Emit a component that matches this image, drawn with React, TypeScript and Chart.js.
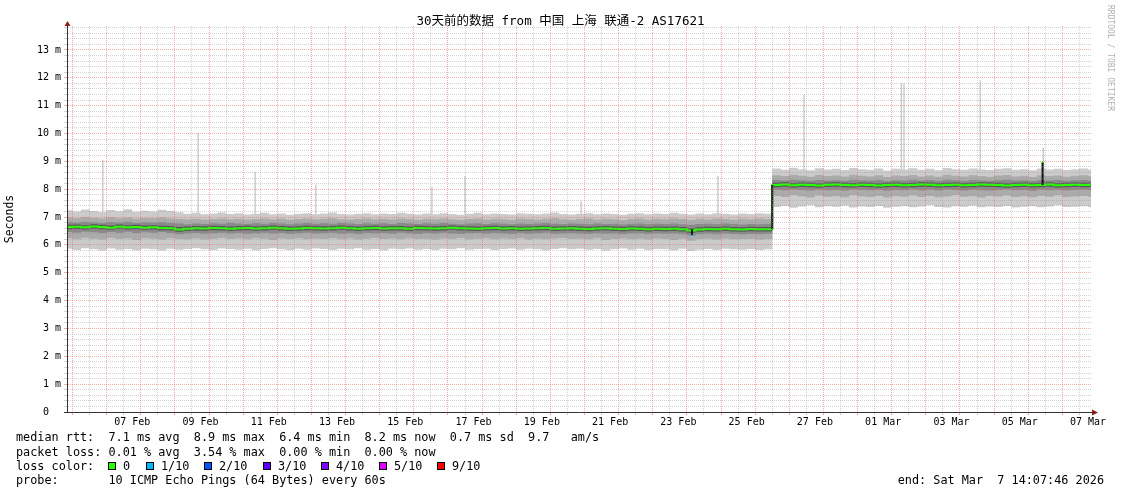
import React, { useEffect, useRef } from 'react';
import { Chart, registerables } from 'chart.js';

Chart.register(...registerables);

// ---------- text ----------
const TITLE = '30天前的数据 from 中国 上海 联通-2 AS17621';
const Y_TITLE = 'Seconds';
const SIDE_TEXT = 'RRDTOOL / TOBI OETIKER';
const LINE_RTT = 'median rtt:  7.1 ms avg  8.9 ms max  6.4 ms min  8.2 ms now  0.7 ms sd  9.7   am/s';
const LINE_LOSS = 'packet loss: 0.01 % avg  3.54 % max  0.00 % min  0.00 % now';
const LINE_LOSS_COLOR = 'loss color:';
const LINE_PROBE = 'probe:       10 ICMP Echo Pings (64 Bytes) every 60s';
const LINE_END = 'end: Sat Mar  7 14:07:46 2026';

const LOSS_LABELS = ['0', '1/10', '2/10', '3/10', '4/10', '5/10', '9/10'];
const LOSS_COLORS = ['#26ff00', '#00b8ff', '#0059ff', '#5e00ff', '#7e00ff', '#dd00ff', '#ff0000'];

// ---------- time axis (day numbers counted in February; 29 = 01 Mar) ----------
const START_DAY = 5 + (14 * 3600 + 7 * 60 + 46) / 86400; // Feb 5 14:07:46
const END_DAY = START_DAY + 30; // Mar 7 14:07:46
const X_LABEL_DAYS = [7.5, 9.5, 11.5, 13.5, 15.5, 17.5, 19.5, 21.5, 23.5, 25.5, 27.5, 29.5, 31.5, 33.5, 35.5];
const X_LABELS = ['07 Feb', '09 Feb', '11 Feb', '13 Feb', '15 Feb', '17 Feb', '19 Feb', '21 Feb', '23 Feb', '25 Feb', '27 Feb', '01 Mar', '03 Mar', '05 Mar', '07 Mar'];
const Y_MAX = 13.86;

// samples every 6 hours, starting Feb 5 12:00
const SAMPLE_START_DAY = 5.5;
const SAMPLE_STEP_DAYS = 0.25;

// ---------- series (ms) ----------
const MEDIAN = [
  6.64, 6.65, 6.63, 6.66, 6.64, 6.62, 6.65, 6.63, 6.64, 6.62,
  6.63, 6.61, 6.6, 6.55, 6.58, 6.6, 6.59, 6.61, 6.6, 6.58,
  6.6, 6.61, 6.59, 6.6, 6.62, 6.6, 6.58, 6.59, 6.61, 6.6,
  6.59, 6.6, 6.62, 6.6, 6.58, 6.6, 6.61, 6.59, 6.6, 6.6,
  6.58, 6.61, 6.6, 6.59, 6.6, 6.62, 6.6, 6.59, 6.58, 6.6,
  6.61, 6.59, 6.6, 6.58, 6.59, 6.6, 6.61, 6.58, 6.59, 6.6,
  6.58, 6.57, 6.59, 6.6, 6.58, 6.57, 6.59, 6.58, 6.56, 6.58,
  6.57, 6.58, 6.56, 6.52, 6.55, 6.57, 6.56, 6.58, 6.56, 6.55,
  6.57, 6.56, 6.56, 8.15, 8.17, 8.14, 8.16, 8.15, 8.13, 8.16,
  8.17, 8.15, 8.14, 8.16, 8.15, 8.13, 8.15, 8.16, 8.14, 8.15,
  8.17, 8.16, 8.14, 8.15, 8.16, 8.14, 8.15, 8.17, 8.16, 8.15,
  8.13, 8.15, 8.16, 8.14, 8.15, 8.17, 8.14, 8.15, 8.16, 8.15,
  8.16, 8.15,
];

const OUTER_HI = [
  7.24, 7.2, 7.27, 7.22, 7.18, 7.25, 7.21, 7.28, 7.19, 7.23,
  7.2, 7.26, 7.22, 7.17, 7.12, 7.15, 7.1, 7.13, 7.16, 7.11,
  7.14, 7.09, 7.12, 7.15, 7.1, 7.13, 7.08, 7.12, 7.14, 7.1,
  7.13, 7.16, 7.11, 7.09, 7.12, 7.14, 7.1, 7.13, 7.11, 7.15,
  7.12, 7.09, 7.13, 7.1, 7.14, 7.11, 7.08, 7.12, 7.15, 7.1,
  7.13, 7.11, 7.09, 7.14, 7.12, 7.1, 7.13, 7.16, 7.11, 7.09,
  7.12, 7.14, 7.1, 7.13, 7.11, 7.08, 7.12, 7.14, 7.1, 7.13,
  7.11, 7.15, 7.12, 7.09, 7.13, 7.1, 7.14, 7.12, 7.09, 7.13,
  7.11, 7.14, 7.12, 8.74, 8.7, 8.77, 8.72, 8.68, 8.75, 8.71,
  8.73, 8.69, 8.76, 8.72, 8.7, 8.74, 8.67, 8.73, 8.71, 8.75,
  8.7, 8.73, 8.68, 8.76, 8.72, 8.7, 8.74, 8.71, 8.69, 8.73,
  8.75, 8.7, 8.72, 8.68, 8.74, 8.71, 8.73, 8.69, 8.72, 8.74,
  8.71, 8.73,
];

const OUTER_LO = [
  5.86, 5.82, 5.88, 5.84, 5.8, 5.87, 5.83, 5.85, 5.81, 5.86,
  5.84, 5.8, 5.86, 5.83, 5.85, 5.88, 5.84, 5.82, 5.87, 5.85,
  5.83, 5.86, 5.81, 5.85, 5.88, 5.84, 5.82, 5.86, 5.83, 5.87,
  5.85, 5.82, 5.86, 5.84, 5.88, 5.83, 5.85, 5.81, 5.86, 5.84,
  5.87, 5.83, 5.85, 5.82, 5.86, 5.84, 5.88, 5.83, 5.85, 5.86,
  5.82, 5.85, 5.87, 5.83, 5.86, 5.84, 5.81, 5.85, 5.88, 5.84,
  5.86, 5.83, 5.85, 5.8, 5.84, 5.87, 5.83, 5.86, 5.82, 5.85,
  5.84, 5.81, 5.86, 5.78, 5.83, 5.85, 5.82, 5.86, 5.84, 5.83,
  5.85, 5.82, 5.84, 7.36, 7.4, 7.33, 7.38, 7.42, 7.35, 7.39,
  7.37, 7.41, 7.34, 7.38, 7.36, 7.4, 7.33, 7.37, 7.39, 7.35,
  7.38, 7.42, 7.36, 7.34, 7.39, 7.37, 7.41, 7.35, 7.38, 7.36,
  7.4, 7.34, 7.37, 7.39, 7.35, 7.38, 7.42, 7.36, 7.37, 7.39,
  7.35, 7.38,
];

const MID_HI = [
  6.98, 6.96, 7.0, 6.97, 6.95, 6.99, 6.96, 6.98, 6.94, 6.97,
  6.96, 6.98, 6.95, 6.93, 6.92, 6.94, 6.91, 6.93, 6.95, 6.92,
  6.94, 6.91, 6.93, 6.95, 6.92, 6.94, 6.9, 6.93, 6.95, 6.92,
  6.94, 6.96, 6.92, 6.91, 6.93, 6.95, 6.92, 6.94, 6.91, 6.95,
  6.93, 6.9, 6.94, 6.92, 6.95, 6.92, 6.9, 6.93, 6.95, 6.91,
  6.94, 6.92, 6.9, 6.95, 6.93, 6.91, 6.94, 6.96, 6.92, 6.9,
  6.93, 6.95, 6.91, 6.94, 6.92, 6.89, 6.93, 6.95, 6.91, 6.94,
  6.92, 6.95, 6.93, 6.9, 6.94, 6.91, 6.95, 6.93, 6.9, 6.94,
  6.92, 6.95, 6.93, 8.5, 8.47, 8.52, 8.48, 8.45, 8.51, 8.47,
  8.49, 8.46, 8.52, 8.48, 8.46, 8.5, 8.44, 8.49, 8.47, 8.51,
  8.46, 8.49, 8.45, 8.52, 8.48, 8.46, 8.5, 8.47, 8.45, 8.49,
  8.51, 8.46, 8.48, 8.44, 8.5, 8.47, 8.49, 8.45, 8.48, 8.5,
  8.47, 8.49,
];

const MID_LO = [
  6.24, 6.2, 6.26, 6.22, 6.19, 6.25, 6.21, 6.23, 6.18, 6.24,
  6.22, 6.19, 6.24, 6.21, 6.2, 6.23, 6.19, 6.22, 6.25, 6.21,
  6.23, 6.2, 6.24, 6.22, 6.18, 6.23, 6.21, 6.24, 6.2, 6.22,
  6.21, 6.24, 6.2, 6.23, 6.19, 6.22, 6.25, 6.21, 6.23, 6.2,
  6.24, 6.21, 6.22, 6.19, 6.23, 6.21, 6.25, 6.2, 6.22, 6.24,
  6.2, 6.23, 6.21, 6.24, 6.19, 6.22, 6.2, 6.23, 6.25, 6.21,
  6.22, 6.2, 6.24, 6.18, 6.21, 6.23, 6.2, 6.22, 6.19, 6.23,
  6.21, 6.18, 6.22, 6.15, 6.2, 6.22, 6.19, 6.23, 6.2, 6.21,
  6.22, 6.19, 6.21, 7.76, 7.72, 7.78, 7.74, 7.7, 7.77, 7.73,
  7.75, 7.71, 7.78, 7.74, 7.72, 7.76, 7.7, 7.75, 7.73, 7.77,
  7.72, 7.76, 7.71, 7.74, 7.78, 7.73, 7.75, 7.7, 7.76, 7.74,
  7.77, 7.72, 7.75, 7.71, 7.76, 7.73, 7.78, 7.72, 7.74, 7.76,
  7.73, 7.75,
];

const INNER_HI = [
  6.82, 6.8, 6.83, 6.81, 6.79, 6.82, 6.8, 6.83, 6.79, 6.81,
  6.8, 6.82, 6.79, 6.77, 6.74, 6.77, 6.75, 6.78, 6.76, 6.79,
  6.77, 6.75, 6.78, 6.76, 6.79, 6.77, 6.74, 6.77, 6.79, 6.76,
  6.78, 6.76, 6.79, 6.77, 6.75, 6.78, 6.76, 6.78, 6.75, 6.79,
  6.77, 6.75, 6.78, 6.76, 6.79, 6.76, 6.74, 6.77, 6.78, 6.75,
  6.78, 6.76, 6.74, 6.77, 6.75, 6.77, 6.79, 6.76, 6.75, 6.77,
  6.76, 6.74, 6.77, 6.75, 6.76, 6.73, 6.76, 6.77, 6.74, 6.76,
  6.75, 6.77, 6.74, 6.72, 6.75, 6.76, 6.74, 6.77, 6.75, 6.73,
  6.75, 6.74, 6.76, 8.33, 8.31, 8.34, 8.32, 8.3, 8.33, 8.31,
  8.32, 8.3, 8.34, 8.32, 8.31, 8.33, 8.29, 8.32, 8.31, 8.34,
  8.31, 8.33, 8.3, 8.34, 8.32, 8.3, 8.33, 8.31, 8.3, 8.32,
  8.34, 8.31, 8.32, 8.29, 8.33, 8.31, 8.33, 8.3, 8.32, 8.33,
  8.31, 8.32,
];

const INNER_LO = [
  6.46, 6.44, 6.47, 6.45, 6.43, 6.46, 6.44, 6.47, 6.43, 6.45,
  6.44, 6.46, 6.43, 6.38, 6.41, 6.43, 6.4, 6.42, 6.44, 6.41,
  6.43, 6.4, 6.42, 6.44, 6.41, 6.43, 6.39, 6.42, 6.44, 6.41,
  6.42, 6.44, 6.4, 6.42, 6.39, 6.43, 6.41, 6.43, 6.4, 6.44,
  6.41, 6.39, 6.43, 6.41, 6.44, 6.41, 6.39, 6.42, 6.43, 6.4,
  6.43, 6.41, 6.39, 6.42, 6.4, 6.42, 6.44, 6.4, 6.41, 6.42,
  6.4, 6.39, 6.42, 6.4, 6.41, 6.38, 6.41, 6.42, 6.39, 6.41,
  6.4, 6.41, 6.38, 6.34, 6.38, 6.4, 6.38, 6.41, 6.39, 6.37,
  6.39, 6.38, 6.4, 7.98, 7.96, 7.99, 7.97, 7.95, 7.98, 7.96,
  7.97, 7.95, 7.99, 7.97, 7.96, 7.98, 7.94, 7.97, 7.96, 7.99,
  7.96, 7.98, 7.95, 7.99, 7.97, 7.95, 7.98, 7.96, 7.95, 7.97,
  7.99, 7.96, 7.97, 7.94, 7.98, 7.96, 7.98, 7.95, 7.97, 7.98,
  7.96, 7.97,
];

const CORE_HI = [
  6.72, 6.73, 6.71, 6.74, 6.72, 6.7, 6.73, 6.71, 6.72, 6.7,
  6.71, 6.69, 6.68, 6.64, 6.66, 6.68, 6.67, 6.69, 6.68, 6.66,
  6.68, 6.69, 6.67, 6.68, 6.7, 6.68, 6.66, 6.67, 6.69, 6.68,
  6.67, 6.68, 6.7, 6.68, 6.66, 6.68, 6.69, 6.67, 6.68, 6.68,
  6.66, 6.69, 6.68, 6.67, 6.68, 6.7, 6.68, 6.67, 6.66, 6.68,
  6.69, 6.67, 6.68, 6.66, 6.67, 6.68, 6.69, 6.66, 6.67, 6.68,
  6.66, 6.65, 6.67, 6.68, 6.66, 6.65, 6.67, 6.66, 6.64, 6.66,
  6.65, 6.66, 6.64, 6.6, 6.63, 6.65, 6.64, 6.66, 6.64, 6.63,
  6.65, 6.64, 6.64, 8.23, 8.25, 8.22, 8.24, 8.23, 8.21, 8.24,
  8.25, 8.23, 8.22, 8.24, 8.23, 8.21, 8.23, 8.24, 8.22, 8.23,
  8.25, 8.24, 8.22, 8.23, 8.24, 8.22, 8.23, 8.25, 8.24, 8.23,
  8.21, 8.23, 8.24, 8.22, 8.23, 8.25, 8.22, 8.23, 8.24, 8.23,
  8.24, 8.23,
];

const CORE_LO = [
  6.56, 6.57, 6.55, 6.58, 6.56, 6.54, 6.57, 6.55, 6.56, 6.54,
  6.55, 6.53, 6.52, 6.47, 6.5, 6.52, 6.51, 6.53, 6.52, 6.5,
  6.52, 6.53, 6.51, 6.52, 6.54, 6.52, 6.5, 6.51, 6.53, 6.52,
  6.51, 6.52, 6.54, 6.52, 6.5, 6.52, 6.53, 6.51, 6.52, 6.52,
  6.5, 6.53, 6.52, 6.51, 6.52, 6.54, 6.52, 6.51, 6.5, 6.52,
  6.53, 6.51, 6.52, 6.5, 6.51, 6.52, 6.53, 6.5, 6.51, 6.52,
  6.5, 6.49, 6.51, 6.52, 6.5, 6.49, 6.51, 6.5, 6.48, 6.5,
  6.49, 6.5, 6.48, 6.44, 6.47, 6.49, 6.48, 6.5, 6.48, 6.47,
  6.49, 6.48, 6.48, 8.07, 8.09, 8.06, 8.08, 8.07, 8.05, 8.08,
  8.09, 8.07, 8.06, 8.08, 8.07, 8.05, 8.07, 8.08, 8.06, 8.07,
  8.09, 8.08, 8.06, 8.07, 8.08, 8.06, 8.07, 8.09, 8.08, 8.07,
  8.05, 8.07, 8.08, 8.06, 8.07, 8.09, 8.06, 8.07, 8.08, 8.07,
  8.08, 8.07,
];

// single-sample max-ping spikes (grey)
const SPIKE_DAYS = [6.64, 9.43, 11.1, 12.88, 16.28, 17.25, 20.65, 24.66, 27.18, 30.03, 30.11, 32.34, 34.19];
const SPIKE_LOW = [7.1, 7.1, 7.1, 7.1, 7.1, 7.1, 7.1, 7.1, 8.6, 8.6, 8.6, 8.6, 8.6];
const SPIKE_HIGH = [9.05, 10.02, 8.63, 8.17, 8.1, 8.47, 7.57, 8.47, 11.38, 11.8, 11.8, 11.9, 9.5];

// median jumps (black)
const JUMP_DAYS = [23.9, 26.25, 34.17];
const JUMP_LOW = [6.36, 6.56, 8.15];
const JUMP_HIGH = [6.56, 8.15, 8.95];

// loss-coloured median marks
const MARK_DAYS = [23.9, 26.25, 34.17];
const MARK_MS = [6.36, 7.0, 8.95];
const MARK_LOSS = [1, 1, 0];

// ---------- styling ----------
const MONO = "'DejaVu Sans Mono', 'Noto Sans CJK SC', monospace";
const MAJOR_GRID = 'rgba(235, 90, 90, 0.5)';
const MINOR_GRID = 'rgba(150, 150, 150, 0.42)';
const AXIS_COLOR = '#333333';
const ARROW_COLOR = '#8a1c1c';
const LOSS_BOX_X = [108, 146, 204, 263, 321, 379, 437];

const near = (a: number, b: number) => Math.abs(a - b) < 1e-6;

const arrowPlugin = {
  id: 'axisArrows',
  afterDraw(chart: any) {
    const { ctx, chartArea: a } = chart;
    ctx.save();
    const x0 = Math.round(a.left) + 0.5;
    const y0 = Math.round(a.bottom) + 0.5;
    ctx.strokeStyle = AXIS_COLOR;
    ctx.lineWidth = 1;
    ctx.beginPath();
    ctx.moveTo(a.right, y0);
    ctx.lineTo(a.right + 2, y0);
    ctx.moveTo(a.left - 3, y0);
    ctx.lineTo(a.left, y0);
    ctx.stroke();
    ctx.fillStyle = ARROW_COLOR;
    ctx.beginPath();
    ctx.moveTo(x0, a.top - 5);
    ctx.lineTo(x0 - 3, a.top);
    ctx.lineTo(x0 + 3, a.top);
    ctx.closePath();
    ctx.fill();
    const xr = a.right + 1;
    ctx.beginPath();
    ctx.moveTo(xr + 6, y0);
    ctx.lineTo(xr, y0 - 3);
    ctx.lineTo(xr, y0 + 3);
    ctx.closePath();
    ctx.fill();
    ctx.restore();
  },
};

export default function App() {
  const ref = useRef<HTMLCanvasElement>(null);

  useEffect(() => {
    const canvas = ref.current;
    if (!canvas) return;
    const pts = (arr: number[]) => arr.map((y, i) => ({ x: SAMPLE_START_DAY + i * SAMPLE_STEP_DAYS, y }));
    const band = (name: string, hi: number[], lo: number[], color: string) => [
      { type: 'line', label: name + ' hi', data: pts(hi), stepped: true, borderWidth: 0, pointRadius: 0, fill: '+1', backgroundColor: color },
      { type: 'line', label: name + ' lo', data: pts(lo), stepped: true, borderWidth: 0, pointRadius: 0, fill: false },
    ];

    const xGrid: number[] = [];
    for (let d = 6; d <= 35.5 + 1e-9; d += 0.5) xGrid.push(d);
    const yGrid: number[] = [];
    for (let i = 0; i <= 69; i++) yGrid.push(Math.round(i * 2) / 10);

    const datasets: any[] = [
      {
        type: 'bar', label: 'median jumps',
        data: JUMP_DAYS.map((d, i) => ({ x: d, y: [JUMP_LOW[i], JUMP_HIGH[i]] })),
        backgroundColor: '#111111', borderWidth: 0, barThickness: 2, grouped: false, inflateAmount: 0,
      },
      {
        type: 'line', label: 'loss marks',
        data: MARK_DAYS.map((d, i) => ({ x: d, y: MARK_MS[i] })),
        showLine: false, pointStyle: 'rect', pointRadius: 1.6, pointBorderWidth: 0,
        pointBackgroundColor: MARK_LOSS.map((l) => LOSS_COLORS[l]),
      },
      {
        type: 'line', label: 'median', data: pts(MEDIAN), stepped: true,
        borderColor: LOSS_COLORS[0], borderWidth: 2, pointRadius: 0, fill: false,
      },
      ...band('core', CORE_HI, CORE_LO, '#585858'),
      ...band('inner', INNER_HI, INNER_LO, '#8a8a8a'),
      ...band('mid', MID_HI, MID_LO, '#ababab'),
      ...band('outer', OUTER_HI, OUTER_LO, '#cbcbcb'),
      {
        type: 'bar', label: 'max spikes',
        data: SPIKE_DAYS.map((d, i) => ({ x: d, y: [SPIKE_LOW[i], SPIKE_HIGH[i]] })),
        backgroundColor: '#b4b4b4', borderWidth: 0, barThickness: 1, grouped: false, inflateAmount: 0,
      },
    ];

    const chart = new Chart(canvas, {
      type: 'line',
      data: { datasets },
      plugins: [arrowPlugin],
      options: {
        animation: false,
        responsive: false,
        devicePixelRatio: 1,
        events: [],
        layout: { padding: { left: 0, top: 26, right: 30, bottom: 62 } },
        plugins: { legend: { display: false }, tooltip: { enabled: false }, title: { display: false } },
        scales: {
          x: {
            type: 'linear', min: START_DAY, max: END_DAY, offset: false,
            afterBuildTicks: (s: any) => { s.ticks = xGrid.map((v) => ({ value: v })); },
            afterFit: (s: any) => { s.height = 20; },
            ticks: {
              autoSkip: false, maxRotation: 0, minRotation: 0, padding: 1, color: '#000',
              font: { family: MONO, size: 10 },
              callback: (v: any) => {
                const k = X_LABEL_DAYS.findIndex((d) => near(d, Number(v)));
                return k >= 0 ? X_LABELS[k] : '';
              },
            },
            grid: {
              z: 1, tickLength: 3, lineWidth: 1,
              color: (c: any) => (c.tick && near(c.tick.value % 1, 0) ? MAJOR_GRID : MINOR_GRID),
            },
            border: { display: true, color: AXIS_COLOR, width: 1, dash: [1, 1], z: 1 },
          },
          y: {
            type: 'linear', min: 0, max: Y_MAX,
            afterBuildTicks: (s: any) => { s.ticks = yGrid.map((v) => ({ value: v })); },
            afterFit: (s: any) => { s.width = 67; },
            ticks: {
              autoSkip: false, padding: 3, color: '#000',
              font: { family: MONO, size: 10 },
              callback: (v: any) => {
                const n = Number(v);
                const r = Math.round(n);
                if (!near(n, r)) return '';
                return r === 0 ? '0  ' : `${r} m`;
              },
            },
            grid: {
              z: 1, tickLength: 3, lineWidth: 1,
              color: (c: any) => {
                if (!c.tick) return MINOR_GRID;
                const v = c.tick.value;
                if (near(v, 0)) return 'rgba(0,0,0,0)';
                return near(v, Math.round(v)) ? MAJOR_GRID : MINOR_GRID;
              },
            },
            border: { display: true, color: AXIS_COLOR, width: 1, dash: [1, 1], z: 1 },
            title: {
              display: true, text: Y_TITLE, color: '#000',
              font: { family: MONO, size: 11.5 }, padding: { top: 3, bottom: 0 },
            },
          },
        },
      } as any,
    });
    return () => chart.destroy();
  }, []);

  const textBase: React.CSSProperties = {
    position: 'absolute', fontFamily: MONO, fontSize: '11.82px', lineHeight: '14px',
    whiteSpace: 'pre', color: '#000', margin: 0,
  };

  return (
    <div style={{ position: 'absolute', left: 0, top: 0, width: 1121, height: 494, background: '#fff', overflow: 'hidden' }}>
      <canvas ref={ref} width={1121} height={494} style={{ position: 'absolute', left: 0, top: 0, width: 1121, height: 494 }} />
      <div style={{ position: 'absolute', left: 0, top: 13, width: 1121, textAlign: 'center', fontFamily: MONO, fontSize: '12.5px', lineHeight: '16px', color: '#000', whiteSpace: 'pre' }}>{TITLE}</div>
      <div style={{ position: 'absolute', left: 1105, top: 5, fontFamily: MONO, fontSize: '8px', lineHeight: '10px', color: '#b0b0b0', writingMode: 'vertical-rl', whiteSpace: 'pre' }}>{SIDE_TEXT}</div>
      <div style={{ ...textBase, left: 16, top: 430 }}>{LINE_RTT}</div>
      <div style={{ ...textBase, left: 16, top: 445 }}>{LINE_LOSS}</div>
      <div style={{ ...textBase, left: 16, top: 459 }}>{LINE_LOSS_COLOR}</div>
      {LOSS_LABELS.map((lab, i) => (
        <React.Fragment key={lab}>
          <div style={{ position: 'absolute', left: LOSS_BOX_X[i], top: 462, width: 6, height: 6, border: '1px solid #000', background: LOSS_COLORS[i] }} />
          <div style={{ ...textBase, left: LOSS_BOX_X[i] + 15, top: 459 }}>{lab}</div>
        </React.Fragment>
      ))}
      <div style={{ ...textBase, left: 16, top: 473 }}>{LINE_PROBE}</div>
      <div style={{ ...textBase, left: 0, width: 1104, textAlign: 'right', top: 473 }}>{LINE_END}</div>
    </div>
  );
}
